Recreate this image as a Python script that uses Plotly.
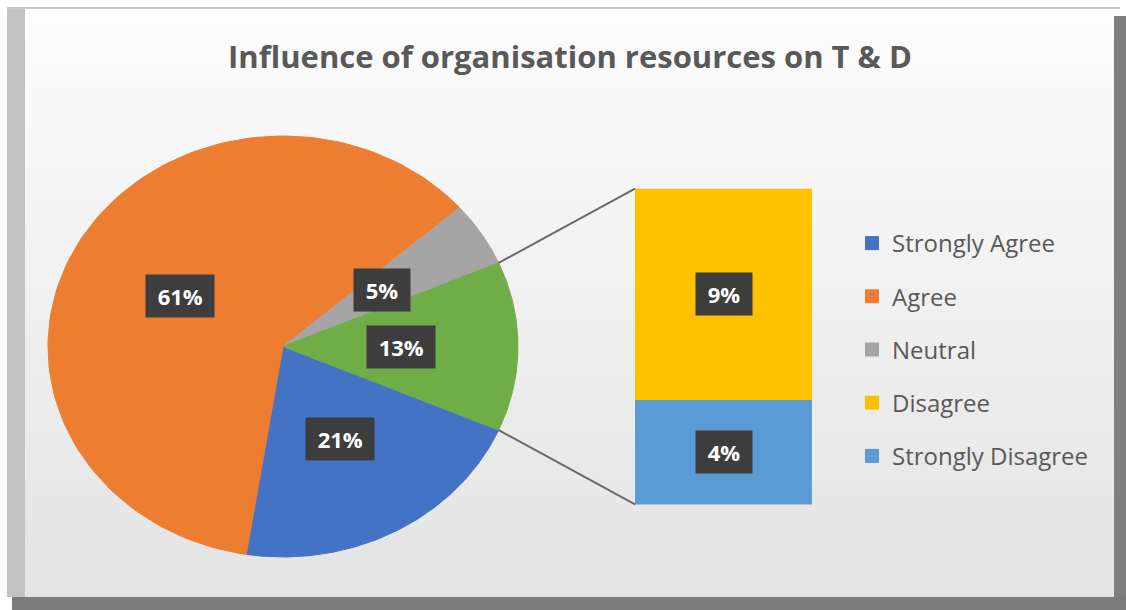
import numpy as np
import plotly.graph_objects as go

# survey answers (percent of respondents)
categories = ["Strongly Agree", "Agree", "Neutral", "Disagree", "Strongly Disagree"]
values = [21, 61, 5, 8.7, 4.3]
colors = ["#4472C4", "#ED7D31", "#A5A5A5", "#FFC000", "#5B9BD5"]

# first three go in the pie, last two are split out into the bar
pie_idx = [0, 1, 2]
bar_idx = [3, 4]
other_color = "#70AD47"

W, H = 1126, 610
FONT = "Open Sans"
TXT = "#595959"

# pixel geometry of the pie (the picture is a little wider than tall)
cx, cy = 283, 346.5
rx, ry = 235, 210.5
bar_left, bar_right = 1.498, 2.251   # in pie-radius units
bar_half = 0.75

other = sum(values[i] for i in bar_idx)
total = sum(values)

fig = go.Figure()

# --- pie slices, drawn clockwise starting at the lower edge of the "other" slice
pie_vals = [values[i] for i in pie_idx] + [other]
pie_cols = [colors[i] for i in pie_idx] + [other_color]
pie_txt = [f"{round(values[i])}%" for i in pie_idx] + [f"{round(other)}%"]

start = -np.pi * other / total   # clockwise -> decreasing angle
mids = []
for v, col in zip(pie_vals, pie_cols):
    span = 2 * np.pi * v / total
    t = np.linspace(start, start - span, 120)
    xs = np.concatenate([[0], np.cos(t), [0]])
    ys = np.concatenate([[0], np.sin(t), [0]])
    fig.add_trace(go.Scatter(x=xs, y=ys, mode="lines", fill="toself",
                             fillcolor=col, line=dict(color=col, width=1),
                             showlegend=False, hoverinfo="skip"))
    mids.append(start - span / 2)
    start -= span

# --- bar of the split-out slice
scale = 2 * bar_half / other
base = -bar_half
bar_mid = {}
for i in reversed(bar_idx):
    h = values[i] * scale
    fig.add_trace(go.Bar(x=[(bar_left + bar_right) / 2], y=[h], base=[base],
                         width=bar_right - bar_left, marker_color=colors[i],
                         marker_line_width=0, name=categories[i],
                         showlegend=False, hoverinfo="skip"))
    bar_mid[i] = base + h / 2
    base += h

# connector lines from the green slice to the bar corners
a = np.pi * other / total
for s in (1, -1):
    fig.add_trace(go.Scatter(x=[np.cos(a), bar_left], y=[s * np.sin(a), s * bar_half],
                             mode="lines", line=dict(color="#6a6a6a", width=2),
                             showlegend=False, hoverinfo="skip"))

# legend entries
for i, cat in enumerate(categories):
    fig.add_trace(go.Scatter(x=[None], y=[None], mode="markers", name=cat,
                             legendgroup=cat,
                             marker=dict(symbol="square", size=14, color=colors[i])))

# data labels
def label(x, y, text):
    fig.add_annotation(x=x, y=y, xref="x", yref="y", showarrow=False,
                       text="<b>\u00a0" + text + "\u00a0</b>",
                       font=dict(family=FONT, size=22, color="white"),
                       bgcolor="#3d3d3d", borderpad=6)

for m, t in zip(mids, pie_txt):
    label(0.5 * np.cos(m), 0.5 * np.sin(m), t)
for i in bar_idx:
    label((bar_left + bar_right) / 2, bar_mid[i], f"{round(values[i])}%")

# --- frame (bevelled border and soft gradient background)
shapes = []
top, bot, lft, rgt = 9, 597, 25, 1114
n = 40
c0, c1 = np.array([253, 253, 253]), np.array([228, 228, 228])
for k in range(n):
    y0 = top + (bot - top) * k / n
    y1 = top + (bot - top) * (k + 1) / n + 1
    c = c0 + (c1 - c0) * k / (n - 1)
    shapes.append(dict(type="rect", xref="paper", yref="paper", layer="below",
                       x0=lft / W, x1=rgt / W, y0=1 - y1 / H, y1=1 - y0 / H,
                       line_width=0, fillcolor="rgb(%d,%d,%d)" % tuple(c)))
shapes += [
    dict(type="rect", xref="paper", yref="paper", layer="below",
         x0=7 / W, x1=lft / W, y0=1 - bot / H, y1=1 - top / H,
         line_width=0, fillcolor="#c2c2c2"),
    dict(type="rect", xref="paper", yref="paper", layer="below",
         x0=rgt / W, x1=1, y0=0, y1=1 - 16 / H,
         line_width=0, fillcolor="#7f7f7f"),
    dict(type="rect", xref="paper", yref="paper", layer="below",
         x0=12 / W, x1=1, y0=0, y1=1 - bot / H,
         line_width=0, fillcolor="#7b7b7b"),
    dict(type="line", xref="paper", yref="paper", layer="below",
         x0=7 / W, x1=1120 / W, y0=1 - 8 / H, y1=1 - 8 / H,
         line=dict(color="#c8c8c8", width=2)),
]

fig.update_layout(
    width=W, height=H,
    margin=dict(l=0, r=0, t=0, b=0),
    paper_bgcolor="white", plot_bgcolor="rgba(0,0,0,0)",
    shapes=shapes,
    barmode="overlay",
    title=dict(text="<b>Influence of organisation resources on T & D</b>",
               x=570 / W, y=1 - 57 / H, xanchor="center", yanchor="middle",
               font=dict(family=FONT, size=31, color=TXT)),
    xaxis=dict(range=[-cx / rx, (W - cx) / rx], visible=False, fixedrange=True),
    yaxis=dict(range=[(cy - H) / ry, cy / ry], visible=False, fixedrange=True),
    legend=dict(x=852 / W, y=1 - 221 / H, xanchor="left", yanchor="top",
                font=dict(family=FONT, size=24, color=TXT),
                bgcolor="rgba(0,0,0,0)", itemwidth=30, tracegroupgap=19),
    font=dict(family=FONT),
)

fig.write_html("out.html", config={"displayModeBar": False},
               post_script="document.body.style.margin='0';document.body.style.overflow='hidden';")
